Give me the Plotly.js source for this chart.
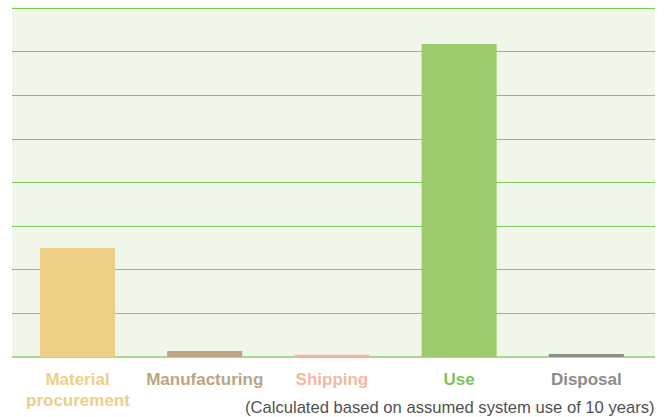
<!DOCTYPE html>
<html>
<head>
<meta charset="utf-8">
<script src="https://cdn.plot.ly/plotly-3.0.1.min.js"></script>
<style>
  html, body { margin: 0; padding: 0; background: #fff; }
  #chart { width: 666px; height: 417px; }
</style>
</head>
<body>
<div id="chart"></div>
<script>
const stages = ['Material procurement', 'Manufacturing', 'Shipping', 'Use', 'Disposal'];
const stageLabels = ['Material', 'Manufacturing', 'Shipping', 'Use', 'Disposal'];
const secondLine = 'procurement';
const emissions = [2.5, 0.14, 0.05, 7.18, 0.07];
const barColors = ['#edd088', '#bba582', '#f5b49a', '#9ccb6e', '#8e8e88'];
const labelColors = ['#edcf88', '#bba582', '#f5b8a0', '#7dc45a', '#8c8c8c'];
const note = '(Calculated based on assumed system use of 10 years)';

const trace = {
    x: stages,
    y: emissions,
    type: 'bar',
    width: 0.59,
    marker: { color: barColors, line: { width: 0 } },
    hoverinfo: 'x+y'
};

const layout = {
    width: 666,
    height: 417,
    margin: { l: 12, r: 11, t: 7, b: 60, pad: 0 },
    paper_bgcolor: '#ffffff',
    plot_bgcolor: '#f0f6ea',
    showlegend: false,
    font: { family: 'Liberation Sans, Arial, sans-serif' },
    xaxis: {
        type: 'category',
        range: [-0.515, 4.54],
        tickmode: 'array',
        tickvals: stages,
        ticktext: stageLabels.map((t, i) =>
            '<span style="color:' + labelColors[i] + '"><b>' + t + '</b></span>'),
        tickfont: { size: 17 },
        ticklabelstandoff: 10,
        ticks: '',
        showgrid: false,
        zeroline: false,
        showline: false
    },
    yaxis: {
        range: [0, 8.03],
        dtick: 1,
        showticklabels: false,
        ticks: '',
        showgrid: true,
        gridcolor: '#7dc95e',
        gridwidth: 1.2,
        zeroline: true,
        zerolinecolor: '#a8d990',
        zerolinewidth: 1.5,
        showline: false
    },
    annotations: [{
        text: '<b>' + secondLine + '</b>',
        x: stages[0], xref: 'x',
        y: -0.091, yref: 'paper',
        xanchor: 'center', yanchor: 'top',
        showarrow: false,
        font: { size: 17, color: labelColors[0] }
    }, {
        text: note,
        xref: 'paper', yref: 'paper',
        x: 1.003, y: -0.11,
        xanchor: 'right', yanchor: 'top',
        showarrow: false,
        font: { size: 16.6, color: '#505050' }
    }]
};

Plotly.newPlot('chart', [trace], layout, { displayModeBar: false, responsive: false });
</script>
</body>
</html>
